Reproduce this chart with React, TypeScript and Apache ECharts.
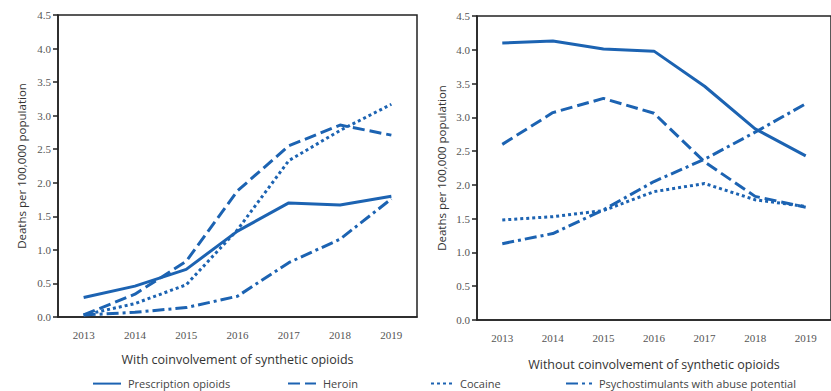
import React, { useEffect, useRef } from "react";
import * as echarts from "echarts";

const years = ["2013", "2014", "2015", "2016", "2017", "2018", "2019"];

const seriesNames = [
  "Prescription opioids",
  "Heroin",
  "Cocaine",
  "Psychostimulants with abuse potential",
];

// With coinvolvement of synthetic opioids
const withPrescription = [0.29, 0.46, 0.71, 1.28, 1.7, 1.67, 1.8];
const withHeroin = [0.03, 0.34, 0.83, 1.88, 2.55, 2.86, 2.71];
const withCocaine = [0.03, 0.2, 0.48, 1.3, 2.33, 2.78, 3.17];
const withPsycho = [0.03, 0.07, 0.14, 0.31, 0.81, 1.16, 1.76];

// Without coinvolvement of synthetic opioids
const withoutPrescription = [4.1, 4.13, 4.01, 3.98, 3.46, 2.83, 2.43];
const withoutHeroin = [2.6, 3.07, 3.28, 3.06, 2.34, 1.83, 1.67];
const withoutCocaine = [1.48, 1.53, 1.62, 1.9, 2.02, 1.78, 1.68];
const withoutPsycho = [1.13, 1.28, 1.63, 2.05, 2.38, 2.78, 3.2];

const yTicks = ["0.0", "0.5", "1.0", "1.5", "2.0", "2.5", "3.0", "3.5", "4.0", "4.5"];

const xTitles = [
  "With coinvolvement of synthetic opioids",
  "Without coinvolvement of synthetic opioids",
];
const yTitle = "Deaths per 100,000 population";

const BLUE = "#1c63b2";
const lineTypes: any[] = ["solid", [12, 5], [3, 3], [12, 4, 3, 4]];

export default function App() {
  const ref = useRef<HTMLDivElement>(null);

  useEffect(() => {
    if (!ref.current) return;
    const chart = echarts.init(ref.current, null, { renderer: "svg" });

    const grids = [
      { left: 58, top: 15, width: 359, height: 302 },
      { left: 477, top: 16, width: 359, height: 304 },
    ];

    const mkX = (i: number) => ({
      type: "category",
      gridIndex: i,
      data: years,
      boundaryGap: true,
      name: xTitles[i],
      nameLocation: "middle",
      nameGap: i === 0 ? 36 : 38,
      nameTextStyle: { fontFamily: "Open Sans", fontSize: 12.5, color: "#333" },
      axisLine: { lineStyle: { color: "#222", width: 1.5 } },
      axisTick: { alignWithLabel: true, length: 5, lineStyle: { color: "#222", width: 1.5 } },
      axisLabel: {
        fontFamily: "Liberation Serif",
        fontSize: 11,
        color: "#555",
        margin: 12,
      },
      splitLine: { show: false },
    });

    const mkY = (i: number) => ({
      type: "value",
      gridIndex: i,
      min: 0,
      max: 4.5,
      interval: 0.5,
      name: yTitle,
      nameLocation: "middle",
      nameGap: i === 0 ? 31 : 30,
      nameTextStyle: { fontFamily: "Open Sans", fontSize: 11.5, color: "#333" },
      axisLine: { show: true, lineStyle: { color: "#222", width: 1.5 } },
      axisTick: { show: true, length: 5, lineStyle: { color: "#222", width: 1.5 } },
      axisLabel: {
        fontFamily: "Liberation Serif",
        fontSize: 11,
        color: "#555",
        margin: 7,
        formatter: (v: number) => yTicks[Math.round(v / 0.5)] ?? v.toFixed(1),
      },
      splitLine: { show: false },
    });

    const dataSets = [
      [withPrescription, withHeroin, withCocaine, withPsycho],
      [withoutPrescription, withoutHeroin, withoutCocaine, withoutPsycho],
    ];

    const series: any[] = [];
    dataSets.forEach((set, gi) => {
      set.forEach((vals, si) => {
        series.push({
          type: "line",
          name: seriesNames[si],
          xAxisIndex: gi,
          yAxisIndex: gi,
          data: vals,
          symbol: "none",
          showSymbol: false,
          lineStyle: {
            color: BLUE,
            width: 3,
            type: lineTypes[si],
          },
          itemStyle: { color: BLUE },
        });
      });
    });

    const legendLefts = [87, 282, 425, 560];
    const legendWidths = [28, 28, 22, 26];
    const legends = seriesNames.map((n, i) => ({
      data: [n],
      left: legendLefts[i],
      top: 373,
      itemWidth: legendWidths[i],
      itemHeight: 14,
      itemGap: 5,
      itemStyle: { opacity: 0 },
      textStyle: { fontFamily: "Open Sans", fontSize: 11, color: "#444", padding: [0, 0, 0, 2] },
      selectedMode: false,
    }));

    chart.setOption({
      animation: false,
      backgroundColor: "#fff",
      grid: grids.map((g) => ({
        ...g,
        show: true,
        borderColor: "#222",
        borderWidth: 1.5,
        backgroundColor: "transparent",
        containLabel: false,
      })),
      xAxis: [mkX(0), mkX(1)],
      yAxis: [mkY(0), mkY(1)],
      legend: legends,
      series,
    });

    return () => chart.dispose();
  }, []);

  return (
    <div
      ref={ref}
      style={{ position: "fixed", left: 0, top: 0, width: 831, height: 391, background: "#fff" }}
    />
  );
}
